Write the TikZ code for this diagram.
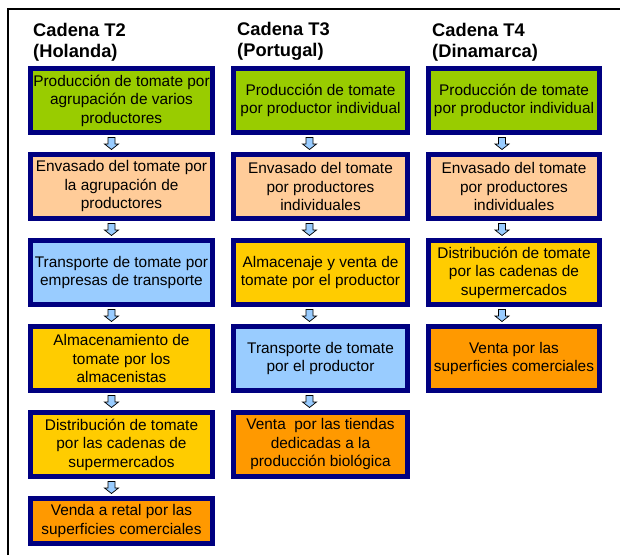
\documentclass[tikz,border=0pt]{standalone}
\usepackage{fontspec}
\setmainfont{Liberation Sans}
\definecolor{bordeazul}{RGB}{0, 0, 128}
\definecolor{verde1}{RGB}{153, 204, 0}
\definecolor{salmon1}{RGB}{255, 204, 153}
\definecolor{celeste1}{RGB}{153, 204, 255}
\definecolor{amarillo1}{RGB}{255, 204, 0}
\definecolor{naranja1}{RGB}{255, 153, 0}
\usetikzlibrary{positioning, calc}

\begin{document}
\begin{tikzpicture}[x=1pt, y=1pt,
  etapa/.style={draw=bordeazul, line width=5pt, inner sep=1pt, align=center, minimum height=64pt, font=\fontsize{15.4}{18.5}\selectfont},
  cabecera/.style={inner sep=0pt, align=left, font=\fontsize{18.3}{21}\selectfont\bfseries},
  flecha/.style={draw=black, line width=0.7pt, fill=celeste1, line join=miter}]
  \useasboundingbox (0,0) rectangle (620,-555);
  % marco
  \draw[line width=2.2pt] (7.8,-555) -- (7.8,-9.3) -- (620,-9.3);

  % Cadena T2
  \node[etapa, fill=verde1, minimum width=182pt, anchor=north west] (t2a) at (28,-66) {Producción de tomate por\\agrupación de varios\\productores};
  \node[etapa, fill=salmon1, minimum width=182pt, below=17pt of t2a] (t2b) {Envasado del tomate por\\la agrupación de\\productores};
  \node[etapa, fill=celeste1, minimum width=182pt, below=17pt of t2b] (t2c) {Transporte de tomate por\\empresas de transporte};
  \node[etapa, fill=amarillo1, minimum width=182pt, below=17pt of t2c] (t2d) {Almacenamiento de\\tomate por los\\almacenistas};
  \node[etapa, fill=amarillo1, minimum width=182pt, below=17pt of t2d] (t2e) {Distribución de tomate\\por las cadenas de\\supermercados};
  \node[etapa, fill=naranja1, minimum width=182pt, minimum height=45pt, below=17pt of t2e] (t2f) {Venda a retal por las\\superficies comerciales};
  \node[cabecera, above right=5pt and 5pt of t2a.north west] (cab2) {Cadena T2\\(Holanda)};

  % Cadena T3
  \node[etapa, fill=verde1, minimum width=174pt, right=16pt of t2a] (t3a) {Producción de tomate\\por productor individual};
  \node[etapa, fill=salmon1, minimum width=174pt, below=17pt of t3a] (t3b) {Envasado del tomate\\por productores\\individuales};
  \node[etapa, fill=amarillo1, minimum width=174pt, below=17pt of t3b] (t3c) {Almacenaje y venta de\\tomate por el productor};
  \node[etapa, fill=celeste1, minimum width=174pt, below=17pt of t3c] (t3d) {Transporte de tomate\\por el productor};
  \node[etapa, fill=naranja1, minimum width=174pt, below=17pt of t3d] (t3e) {Venta\ \ por las tiendas\\dedicadas a la\\producción biológica};
  \node[cabecera, above right=5pt and 6pt of t3a.north west] (cab3) {Cadena T3\\(Portugal)};

  % Cadena T4
  \node[etapa, fill=verde1, minimum width=171pt, right=16pt of t3a] (t4a) {Producción de tomate\\por productor individual};
  \node[etapa, fill=salmon1, minimum width=171pt, below=17pt of t4a] (t4b) {Envasado del tomate\\por productores\\individuales};
  \node[etapa, fill=amarillo1, minimum width=171pt, below=17pt of t4b] (t4c) {Distribución de tomate\\por las cadenas de\\supermercados};
  \node[etapa, fill=naranja1, minimum width=171pt, below=17pt of t4c] (t4d) {Venta por las\\superficies comerciales};
  \node[cabecera, above right=5pt and 6pt of t4a.north west] (cab4) {Cadena T4\\(Dinamarca)};

  % flechas
  \draw[flecha] ($(t2a.south)!0.5!(t2b.north)+(-10,0)$) ++(-3.5,6) -- ++(7,0) -- ++(0,-6.5) -- ++(3.5,0) -- ++(-7,-5.5) -- ++(-7,5.5) -- ++(3.5,0) -- cycle;
  \draw[flecha] ($(t2b.south)!0.5!(t2c.north)+(-10,0)$) ++(-3.5,6) -- ++(7,0) -- ++(0,-6.5) -- ++(3.5,0) -- ++(-7,-5.5) -- ++(-7,5.5) -- ++(3.5,0) -- cycle;
  \draw[flecha] ($(t2c.south)!0.5!(t2d.north)+(-10,0)$) ++(-3.5,6) -- ++(7,0) -- ++(0,-6.5) -- ++(3.5,0) -- ++(-7,-5.5) -- ++(-7,5.5) -- ++(3.5,0) -- cycle;
  \draw[flecha] ($(t2d.south)!0.5!(t2e.north)+(-10,0)$) ++(-3.5,6) -- ++(7,0) -- ++(0,-6.5) -- ++(3.5,0) -- ++(-7,-5.5) -- ++(-7,5.5) -- ++(3.5,0) -- cycle;
  \draw[flecha] ($(t2e.south)!0.5!(t2f.north)+(-10,0)$) ++(-3.5,6) -- ++(7,0) -- ++(0,-6.5) -- ++(3.5,0) -- ++(-7,-5.5) -- ++(-7,5.5) -- ++(3.5,0) -- cycle;
  \draw[flecha] ($(t3a.south)!0.5!(t3b.north)+(-11,0)$) ++(-3.5,6) -- ++(7,0) -- ++(0,-6.5) -- ++(3.5,0) -- ++(-7,-5.5) -- ++(-7,5.5) -- ++(3.5,0) -- cycle;
  \draw[flecha] ($(t3b.south)!0.5!(t3c.north)+(-11,0)$) ++(-3.5,6) -- ++(7,0) -- ++(0,-6.5) -- ++(3.5,0) -- ++(-7,-5.5) -- ++(-7,5.5) -- ++(3.5,0) -- cycle;
  \draw[flecha] ($(t3c.south)!0.5!(t3d.north)+(-11,0)$) ++(-3.5,6) -- ++(7,0) -- ++(0,-6.5) -- ++(3.5,0) -- ++(-7,-5.5) -- ++(-7,5.5) -- ++(3.5,0) -- cycle;
  \draw[flecha] ($(t3d.south)!0.5!(t3e.north)+(-11,0)$) ++(-3.5,6) -- ++(7,0) -- ++(0,-6.5) -- ++(3.5,0) -- ++(-7,-5.5) -- ++(-7,5.5) -- ++(3.5,0) -- cycle;
  \draw[flecha] ($(t4a.south)!0.5!(t4b.north)+(-12,0)$) ++(-3.5,6) -- ++(7,0) -- ++(0,-6.5) -- ++(3.5,0) -- ++(-7,-5.5) -- ++(-7,5.5) -- ++(3.5,0) -- cycle;
  \draw[flecha] ($(t4b.south)!0.5!(t4c.north)+(-12,0)$) ++(-3.5,6) -- ++(7,0) -- ++(0,-6.5) -- ++(3.5,0) -- ++(-7,-5.5) -- ++(-7,5.5) -- ++(3.5,0) -- cycle;
  \draw[flecha] ($(t4c.south)!0.5!(t4d.north)+(-12,0)$) ++(-3.5,6) -- ++(7,0) -- ++(0,-6.5) -- ++(3.5,0) -- ++(-7,-5.5) -- ++(-7,5.5) -- ++(3.5,0) -- cycle;
\end{tikzpicture}
\end{document}
